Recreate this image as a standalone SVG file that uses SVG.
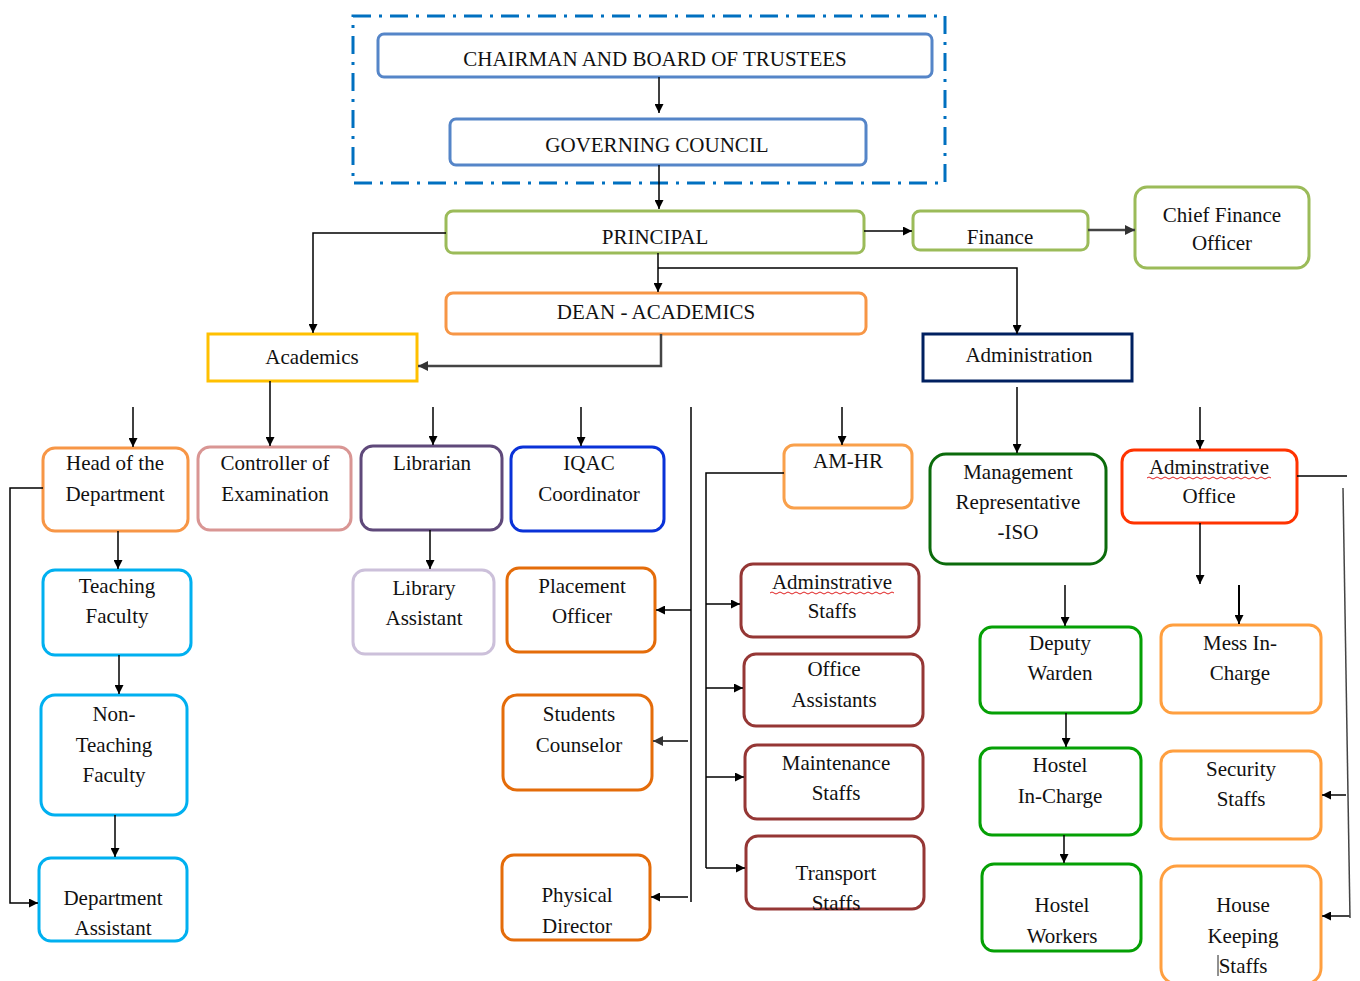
<svg xmlns="http://www.w3.org/2000/svg" width="1360" height="981" viewBox="0 0 1360 981">
<defs>
<marker id="ah" markerUnits="userSpaceOnUse" markerWidth="9" markerHeight="9" refX="9" refY="4.5" orient="auto"><path d="M0,0 L9,4.5 L0,9 z" fill="#000"/></marker>
<marker id="ahg" markerUnits="userSpaceOnUse" markerWidth="10" markerHeight="10" refX="10" refY="5" orient="auto"><path d="M0,0 L10,5 L0,10 z" fill="#333"/></marker>
<style>
.t text{font-size:21px;fill:#111;text-anchor:middle}
.b{fill:#fff;stroke-width:3}
.c{fill:none;stroke:#000;stroke-width:1.5}
.a{marker-end:url(#ah)}
.g{fill:none;stroke:#444;stroke-width:2.5;marker-end:url(#ahg)}
.w{fill:none;stroke:#e02020;stroke-width:1}
</style>
</defs>
<rect width="1360" height="981" fill="#fff"/>
<rect x="353" y="16" width="592" height="167" fill="none" stroke="#0070C0" stroke-width="3" stroke-dasharray="18,8,3,8"/>
<g class="t" font-family="'Liberation Serif', 'Times New Roman', Tinos, 'Noto Serif', 'DejaVu Serif', FreeSerif, serif">
<g id="chairman"><rect class="b" x="378" y="34" width="554" height="43" rx="6" stroke="#5585C8"/><text x="655" y="66">CHAIRMAN AND BOARD OF TRUSTEES</text></g>
<g id="council"><rect class="b" x="450" y="119" width="416" height="46" rx="6" stroke="#5585C8"/><text x="657" y="152">GOVERNING COUNCIL</text></g>
<g id="principal"><rect class="b" x="446" y="211" width="418" height="42" rx="7" stroke="#9BBB59"/><text x="655" y="244">PRINCIPAL</text></g>
<g id="finance"><rect class="b" x="913" y="211" width="175" height="39" rx="7" stroke="#9BBB59"/><text x="1000" y="244">Finance</text></g>
<g id="cfo"><rect class="b" x="1135" y="187" width="174" height="81" rx="12" stroke="#9BBB59"/><text x="1222" y="222">Chief Finance</text><text x="1222" y="250">Officer</text></g>
<g id="dean"><rect class="b" x="446" y="293" width="420" height="41" rx="7" stroke="#F79646"/><text x="656" y="319">DEAN - ACADEMICS</text></g>
<g id="academics"><rect class="b" x="208" y="334" width="209" height="47" stroke="#FFC000"/><text x="312" y="364">Academics</text></g>
<g id="administration"><rect class="b" x="923" y="334" width="209" height="47" stroke="#002060"/><text x="1029" y="362">Administration</text></g>

<g id="hod"><rect class="b" x="43" y="448" width="145" height="83" rx="12" stroke="#F79646"/><text x="115" y="470">Head of the</text><text x="115" y="501">Department</text></g>
<g id="controller"><rect class="b" x="198" y="447" width="153" height="83" rx="12" stroke="#D99694"/><text x="275" y="470">Controller of</text><text x="275" y="501">Examination</text></g>
<g id="librarian"><rect class="b" x="361" y="446" width="141" height="84" rx="12" stroke="#5F497A"/><text x="432" y="470">Librarian</text></g>
<g id="iqac"><rect class="b" x="511" y="447" width="153" height="84" rx="12" stroke="#0A32D8"/><text x="589" y="470">IQAC</text><text x="589" y="501">Coordinator</text></g>

<g id="teaching"><rect class="b" x="43" y="570" width="148" height="85" rx="12" stroke="#00B0F0"/><text x="117" y="593">Teaching</text><text x="117" y="623">Faculty</text></g>
<g id="nonteaching"><rect class="b" x="41" y="695" width="146" height="120" rx="14" stroke="#00B0F0"/><text x="114" y="721">Non-</text><text x="114" y="752">Teaching</text><text x="114" y="782">Faculty</text></g>
<g id="deptasst"><rect class="b" x="39" y="858" width="148" height="83" rx="12" stroke="#00B0F0"/><text x="113" y="905">Department</text><text x="113" y="935">Assistant</text></g>

<g id="libasst"><rect class="b" x="353" y="570" width="141" height="84" rx="12" stroke="#CCC0DA"/><text x="424" y="595">Library</text><text x="424" y="625">Assistant</text></g>
<g id="placement"><rect class="b" x="507" y="568" width="148" height="84" rx="12" stroke="#E46C0A"/><text x="582" y="593">Placement</text><text x="582" y="623">Officer</text></g>
<g id="counselor"><rect class="b" x="503" y="695" width="149" height="95" rx="14" stroke="#E46C0A"/><text x="579" y="721">Students</text><text x="579" y="752">Counselor</text></g>
<g id="physical"><rect class="b" x="502" y="855" width="148" height="85" rx="12" stroke="#E46C0A"/><text x="577" y="902">Physical</text><text x="577" y="933">Director</text></g>

<g id="amhr"><rect class="b" x="784" y="445" width="128" height="63" rx="10" stroke="#F9A04B"/><text x="848" y="468">AM-HR</text></g>
<g id="adminstaffs"><rect class="b" x="741" y="564" width="178" height="73" rx="12" stroke="#953735"/><text x="832" y="589">Adminstrative</text><path class="w" d="M770,593 q2,-2 4,0 t4,0 t4,0 t4,0 t4,0 t4,0 t4,0 t4,0 t4,0 t4,0 t4,0 t4,0 t4,0 t4,0 t4,0 t4,0 t4,0 t4,0 t4,0 t4,0 t4,0 t4,0 t4,0 t4,0 t4,0 t4,0 t4,0 t4,0 t4,0 t4,0 t4,0"/><text x="832" y="618">Staffs</text></g>
<g id="officeasst"><rect class="b" x="744" y="654" width="179" height="72" rx="12" stroke="#953735"/><text x="834" y="676">Office</text><text x="834" y="707">Assistants</text></g>
<g id="maintenance"><rect class="b" x="745" y="745" width="178" height="74" rx="12" stroke="#953735"/><text x="836" y="770">Maintenance</text><text x="836" y="800">Staffs</text></g>
<g id="transport"><rect class="b" x="746" y="836" width="178" height="73" rx="12" stroke="#953735"/><text x="836" y="880">Transport</text><text x="836" y="910">Staffs</text></g>

<g id="mgmtrep"><rect class="b" x="930" y="454" width="176" height="110" rx="16" stroke="#0B6B0B"/><text x="1018" y="479">Management</text><text x="1018" y="509">Representative</text><text x="1018" y="539">-ISO</text></g>
<g id="adminoffice"><rect class="b" x="1122" y="450" width="175" height="73" rx="12" stroke="#FF3300"/><text x="1209" y="474">Adminstrative</text><path class="w" d="M1147,478 q2,-2 4,0 t4,0 t4,0 t4,0 t4,0 t4,0 t4,0 t4,0 t4,0 t4,0 t4,0 t4,0 t4,0 t4,0 t4,0 t4,0 t4,0 t4,0 t4,0 t4,0 t4,0 t4,0 t4,0 t4,0 t4,0 t4,0 t4,0 t4,0 t4,0 t4,0 t4,0"/><text x="1209" y="503">Office</text></g>

<g id="deputy"><rect class="b" x="980" y="627" width="161" height="86" rx="12" stroke="#05A005"/><text x="1060" y="650">Deputy</text><text x="1060" y="680">Warden</text></g>
<g id="hostelincharge"><rect class="b" x="980" y="748" width="161" height="87" rx="12" stroke="#05A005"/><text x="1060" y="772">Hostel</text><text x="1060" y="803">In-Charge</text></g>
<g id="hostelworkers"><rect class="b" x="982" y="864" width="159" height="87" rx="12" stroke="#05A005"/><text x="1062" y="912">Hostel</text><text x="1062" y="943">Workers</text></g>
<g id="mess"><rect class="b" x="1161" y="625" width="160" height="88" rx="12" stroke="#FF9F3F"/><text x="1240" y="650">Mess In-</text><text x="1240" y="680">Charge</text></g>
<g id="security"><rect class="b" x="1161" y="751" width="160" height="88" rx="12" stroke="#FF9F3F"/><text x="1241" y="776">Security</text><text x="1241" y="806">Staffs</text></g>
<g id="housekeeping"><rect class="b" x="1161" y="866" width="160" height="118" rx="16" stroke="#FF9F3F"/><text x="1243" y="912">House</text><text x="1243" y="943">Keeping</text><line x1="1218" y1="955" x2="1218" y2="976" stroke="#222" stroke-width="1"/><text x="1243" y="973">Staffs</text></g>
</g>
<g id="connectors">
<path class="c a" d="M659,77 V113"/>
<path class="c a" d="M659,165 V209"/>
<path class="c a" d="M864,231 H912"/>
<path class="g" d="M1088,230 H1135"/>
<path class="c a" d="M446,233 H313 V333"/>
<path class="c a" d="M658,253 V292"/>
<path class="c a" d="M658,268 H1017 V334"/>
<path class="g" d="M661,334 V366 H418"/>
<path class="c a" d="M270,381 V446"/>
<path class="c a" d="M133,407 V447"/>
<path class="c a" d="M433,407 V445"/>
<path class="c a" d="M581,407 V446"/>
<path class="c a" d="M842,407 V445"/>
<path class="c a" d="M1200,407 V449"/>
<path class="c" d="M691,407 V902"/>
<path class="c a" d="M691,610 H656"/>
<path class="g" style="stroke-width:2" d="M688,741 H653"/>
<path class="c a" d="M688,897 H651"/>
<path class="c a" d="M43,488 H10 V903 H38"/>
<path class="c a" d="M118,531 V569"/>
<path class="c a" d="M119,655 V694"/>
<path class="c a" d="M115,815 V857"/>
<path class="c a" d="M430,530 V569"/>
<path class="c" d="M784,473 H706 V868"/>
<path class="c a" d="M706,604 H740"/>
<path class="c a" d="M706,688 H743"/>
<path class="c a" d="M706,777 H744"/>
<path class="c a" d="M706,868 H745"/>
<path class="c a" d="M1017,387 V453"/>
<path class="c" d="M1297,476 H1347"/>
<path class="c" style="stroke:#444" d="M1343,488 L1350,918"/>
<path class="c a" d="M1346,795 H1322"/>
<path class="c a" style="stroke:#444;stroke-width:2" d="M1350,916 H1322"/>
<path class="c a" d="M1200,523 V584"/>
<path class="c a" d="M1065,585 V626"/>
<path class="c a" style="stroke-width:2" d="M1239,585 V624"/>
<path class="c a" d="M1066,713 V747"/>
<path class="c a" d="M1064,835 V863"/>
</g>
</svg>
